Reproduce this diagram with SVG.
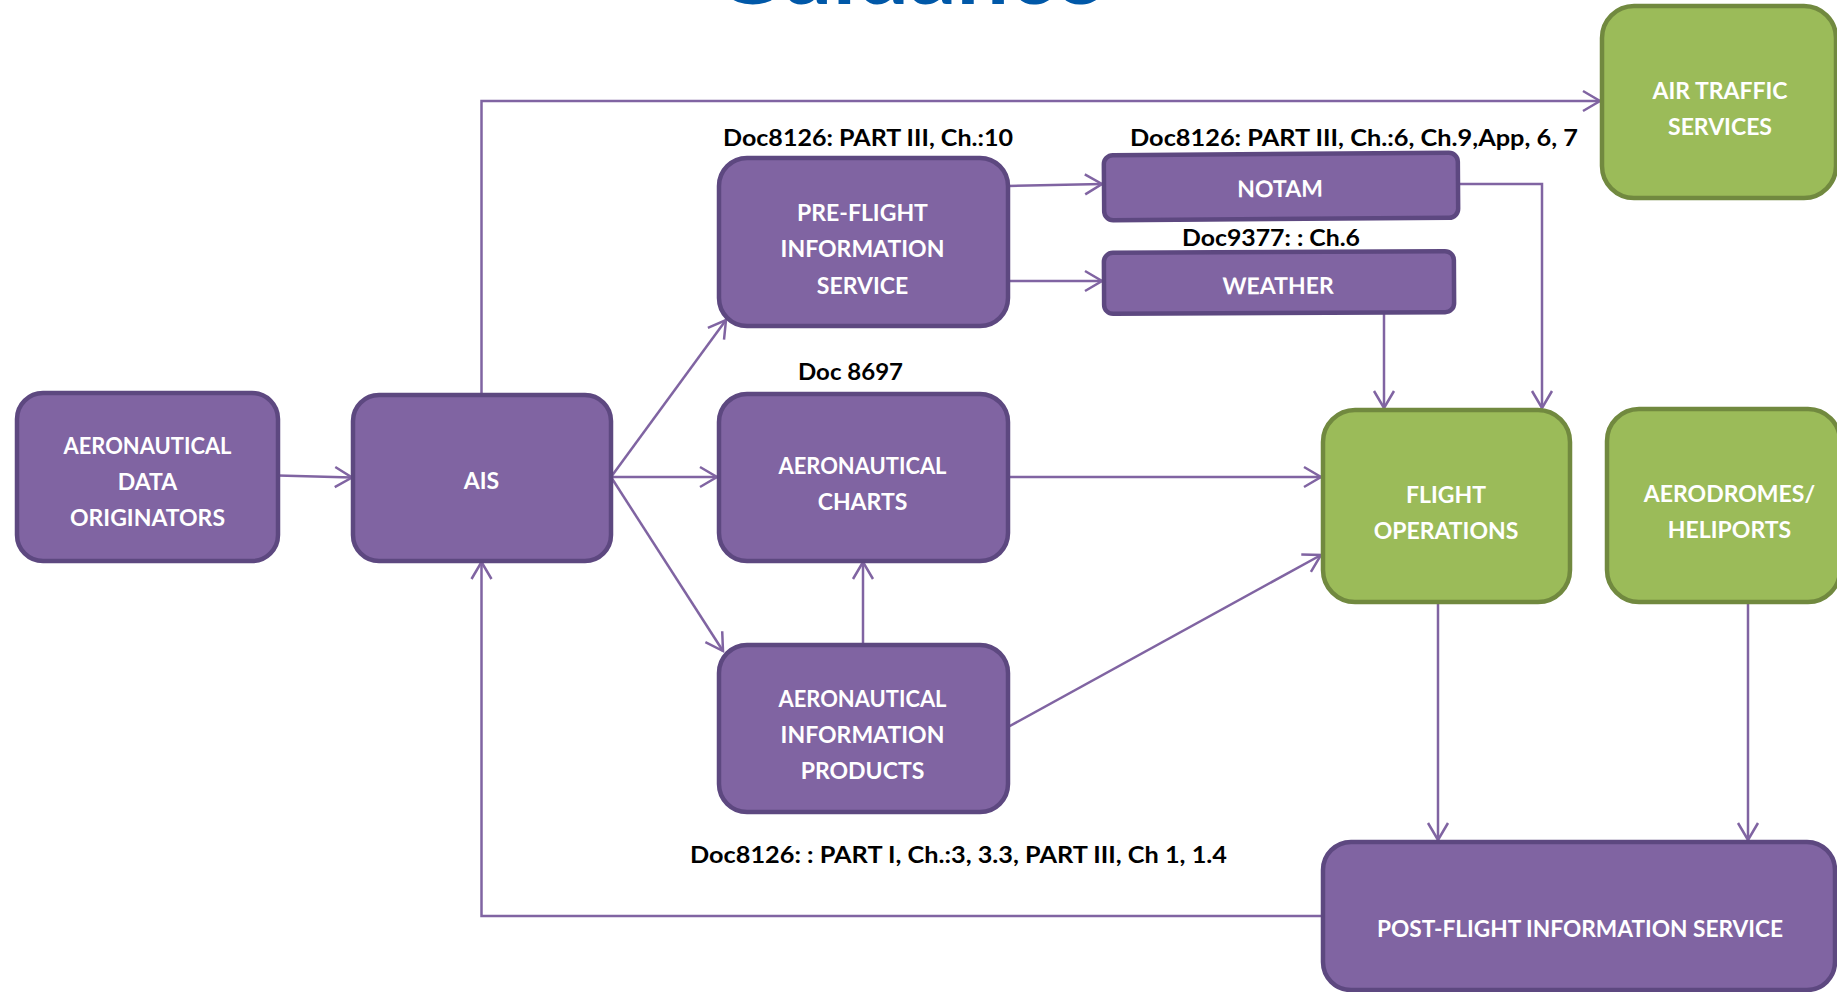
<svg xmlns="http://www.w3.org/2000/svg" width="1837" height="992" viewBox="0 0 1837 992">
<defs>
<style>
.p{fill:#8064A2;stroke:#5D4880;stroke-width:4.5}
.g{fill:#9BBB59;stroke:#71893F;stroke-width:4.5}
.t{font-family:Lato,"Liberation Sans",sans-serif;font-weight:bold;font-size:23px;fill:#FFFFFF;text-anchor:middle}
.lb{font-family:Lato,"Liberation Sans",sans-serif;font-weight:bold;font-size:23px;fill:#000000}
.c{fill:none;stroke:#8064A2;stroke-width:2.5;marker-end:url(#arr)}
</style>
<marker id="arr" markerUnits="userSpaceOnUse" markerWidth="26" markerHeight="26" viewBox="-22 -13 26 26" refX="0" refY="0" orient="auto">
<path d="M-17,-10 L0,0 L-17,10" fill="none" stroke="#8064A2" stroke-width="2.5"/>
</marker>
</defs>
<rect width="1837" height="992" fill="#FFFFFF"/>
<text x="713" y="4" font-family="Lato,'Liberation Sans',sans-serif" font-weight="bold" font-size="90" fill="#0058A8" textLength="390" lengthAdjust="spacingAndGlyphs">Guidance</text>

<g id="connectors">
<path class="c" d="M278,475.5 L352,477.5"/>
<path class="c" d="M481.5,395 V101 H1600"/>
<path class="c" d="M611,477 L726,320"/>
<path class="c" d="M611,477 L717,477"/>
<path class="c" d="M611,477 L723,651"/>
<path class="c" d="M1008,186 L1102,184"/>
<path class="c" d="M1008,281 L1102,281"/>
<path class="c" d="M1458,184 H1542 V408"/>
<path class="c" d="M1384,313 V408"/>
<path class="c" d="M1008,477 L1321,477"/>
<path class="c" d="M1008,727 L1321,555"/>
<path class="c" d="M863,645 V562"/>
<path class="c" d="M1438,602 V840"/>
<path class="c" d="M1748,602 V840"/>
<path class="c" d="M1323,916 H481.5 V562"/>
</g>

<g id="labels">
<text class="lb" x="723" y="146" textLength="290" lengthAdjust="spacingAndGlyphs">Doc8126: PART III, Ch.:10</text>
<text class="lb" x="1130" y="146" textLength="448" lengthAdjust="spacingAndGlyphs">Doc8126: PART III, Ch.:6, Ch.9,App, 6, 7</text>
<text class="lb" x="1182" y="246" textLength="178" lengthAdjust="spacingAndGlyphs">Doc9377: : Ch.6</text>
<text class="lb" x="798" y="380" textLength="105" lengthAdjust="spacingAndGlyphs">Doc 8697</text>
<text class="lb" x="690" y="863" textLength="537" lengthAdjust="spacingAndGlyphs">Doc8126: : PART I, Ch.:3, 3.3, PART III, Ch 1, 1.4</text>
</g>

<g id="node-ado">
<rect class="p" x="17" y="393" width="261" height="168" rx="26"/>
<text class="t" x="147.5" y="453.5" textLength="168" lengthAdjust="spacingAndGlyphs">AERONAUTICAL</text>
<text class="t" x="147.5" y="490">DATA</text>
<text class="t" x="147.5" y="526">ORIGINATORS</text>
</g>
<g id="node-ais">
<rect class="p" x="353" y="395" width="258" height="166" rx="26"/>
<text class="t" x="481.5" y="489">AIS</text>
</g>
<g id="node-pfis">
<rect class="p" x="719" y="158" width="289" height="168" rx="28"/>
<text class="t" x="862.5" y="220.5">PRE-FLIGHT</text>
<text class="t" x="862.5" y="257">INFORMATION</text>
<text class="t" x="862.5" y="294">SERVICE</text>
</g>
<g id="node-charts">
<rect class="p" x="719" y="394" width="289" height="167" rx="28"/>
<text class="t" x="862.5" y="473.5" textLength="168" lengthAdjust="spacingAndGlyphs">AERONAUTICAL</text>
<text class="t" x="862.5" y="510">CHARTS</text>
</g>
<g id="node-aip">
<rect class="p" x="719" y="645" width="289" height="167" rx="28"/>
<text class="t" x="862.5" y="706.5" textLength="168" lengthAdjust="spacingAndGlyphs">AERONAUTICAL</text>
<text class="t" x="862.5" y="743">INFORMATION</text>
<text class="t" x="862.5" y="779">PRODUCTS</text>
</g>
<g id="node-notam" transform="rotate(-0.4 1281 186)">
<rect class="p" x="1104" y="154" width="354" height="65" rx="9"/>
<text class="t" x="1280" y="197">NOTAM</text>
</g>
<g id="node-weather" transform="rotate(-0.3 1279 282)">
<rect class="p" x="1104" y="252" width="350" height="61" rx="9"/>
<text class="t" x="1278" y="294">WEATHER</text>
</g>
<g id="node-ats">
<rect class="g" x="1602" y="6" width="234" height="192" rx="32"/>
<text class="t" x="1720" y="98.5">AIR TRAFFIC</text>
<text class="t" x="1720" y="135">SERVICES</text>
</g>
<g id="node-fo">
<rect class="g" x="1323" y="410" width="247" height="192" rx="32"/>
<text class="t" x="1446" y="502.5">FLIGHT</text>
<text class="t" x="1446" y="539">OPERATIONS</text>
</g>
<g id="node-aerodromes">
<rect class="g" x="1607" y="409" width="233" height="193" rx="32"/>
<text class="t" x="1729.5" y="501.5">AERODROMES/</text>
<text class="t" x="1729.5" y="538">HELIPORTS</text>
</g>
<g id="node-postflight">
<rect class="p" x="1323" y="842" width="512" height="148" rx="28"/>
<text class="t" x="1580" y="936.5" textLength="406" lengthAdjust="spacingAndGlyphs">POST-FLIGHT INFORMATION SERVICE</text>
</g>
</svg>
